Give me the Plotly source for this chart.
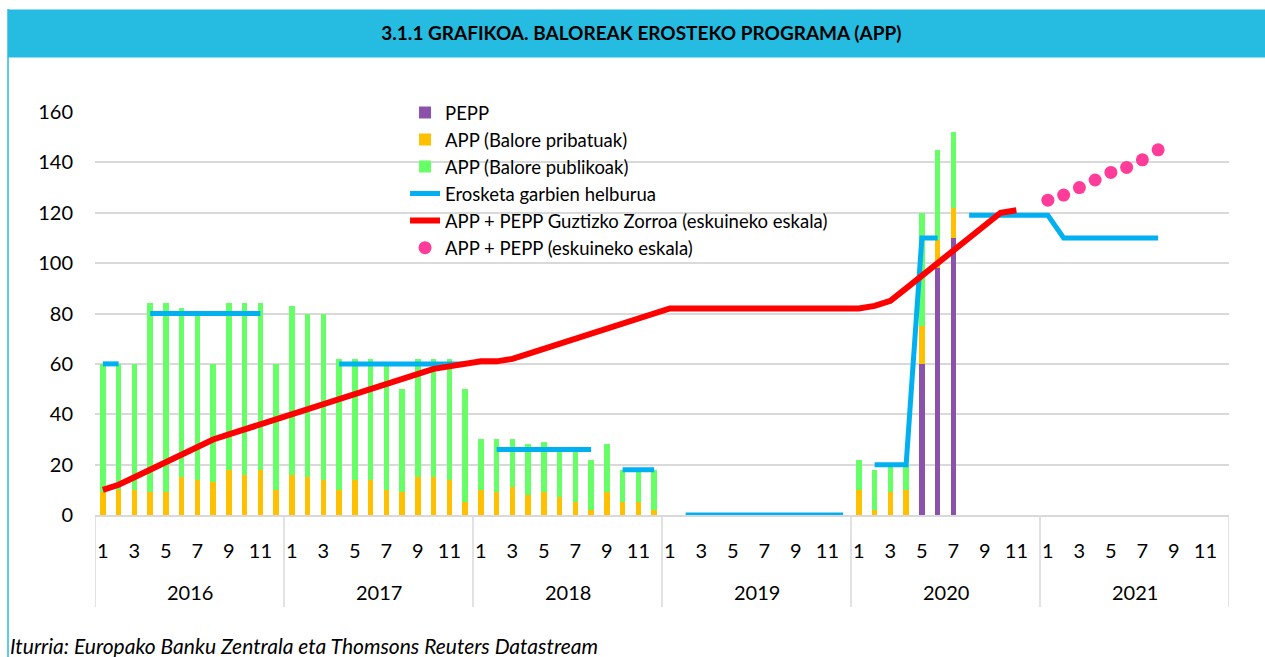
import plotly.graph_objects as go

# Monthly data, January 2016 - December 2021 (72 months)
YEARS = ["2016", "2017", "2018", "2019", "2020", "2021"]
MONTH_TICKS = ["1", "3", "5", "7", "9", "11"]
N = None

# Monthly net purchases (bars, stacked)
pepp = [0] * 12 + [0] * 12 + [0] * 12 + [N] * 12 + \
    [0, 0, 0, 0, 60, 98, 110, N, N, N, N, N] + [N] * 12
app_private = [9, 10, 10, 9, 9, 15, 14, 13, 18, 16, 18, 10] + \
    [16, 15, 14, 10, 14, 14, 10, 9, 15, 15, 14, 5] + \
    [10, 9, 11, 8, 9, 7, 5, 2, 9, 5, 5, 2] + [N] * 12 + \
    [10, 2, 9, 10, 15, 11, 12, N, N, N, N, N] + [N] * 12
app_public = [51, 50, 50, 75, 75, 67, 66, 47, 66, 68, 66, 50] + \
    [67, 65, 66, 52, 48, 48, 50, 41, 47, 47, 48, 45] + \
    [20, 21, 19, 20, 20, 20, 20, 20, 19, 13, 13, 16] + [N] * 12 + \
    [12, 16, 11, 10, 45, 36, 30, N, N, N, N, N] + [N] * 12

# Net purchase target
target = [60, 60, N, 80, 80, 80, 80, 80, 80, 80, 80, N] + \
    [N, N, N, 60, 60, 60, 60, 60, 60, 60, 60, 60] + \
    [N, 26, 26, 26, 26, 26, 26, 26, N, 18, 18, 18] + \
    [N, 0, 0, 0, 0, 0, 0, 0, 0, 0, 0, 0] + \
    [N, 20, 20, 20, 110, 110, N, 119, 119, 119, 119, 119] + \
    [119, 110, 110, 110, 110, 110, 110, 110, N, N, N, N]

# Total APP + PEPP portfolio
portfolio = [10, 12, 15, 18, 21, 24, 27, 30, 32, 34, 36, 38] + \
    [40, 42, 44, 46, 48, 50, 52, 54, 56, 58, 59, 60] + \
    [61, 61, 62, 64, 66, 68, 70, 72, 74, 76, 78, 80] + \
    [82] * 12 + \
    [82, 83, 85, 90, 95, 100, 105, 110, 115, 120, 121, N] + [N] * 12

# APP + PEPP projection
projection = [N] * 60 + [125, 127, 130, 133, 136, 138, 141, 145, N, N, N, N]

x = list(range(len(YEARS) * 12))

FONT = "Lato"
GRID = "#D9D9D9"
BAND = "#26BCE1"

fig = go.Figure()
fig.add_trace(go.Bar(x=x, y=pepp, name="PEPP", marker_color="#8B52AC",
                     marker_line_width=0, width=0.34))
fig.add_trace(go.Bar(x=x, y=app_private, name="APP (Balore pribatuak)",
                     marker_color="#FFC000", marker_line_width=0, width=0.34))
fig.add_trace(go.Bar(x=x, y=app_public, name="APP (Balore publikoak)",
                     marker_color="#66FF66", marker_line_width=0, width=0.34))
fig.add_trace(go.Scatter(x=x, y=target, name="Erosketa garbien helburua",
                         mode="lines", line=dict(color="#00B0F0", width=5),
                         connectgaps=False))
fig.add_trace(go.Scatter(x=x, y=portfolio,
                         name="APP + PEPP Guztizko Zorroa (eskuineko eskala)",
                         mode="lines", line=dict(color="#FF0000", width=6)))
fig.add_trace(go.Scatter(x=x, y=projection,
                         name="APP + PEPP (eskuineko eskala)",
                         mode="markers",
                         marker=dict(color="#FF3C9A", size=13)))

# Month tick labels (odd months) on the numeric month axis
tickvals, ticktext = [], []
for yi, _ in enumerate(YEARS):
    for lab in MONTH_TICKS:
        tickvals.append(yi * 12 + int(lab) - 1)
        ticktext.append(lab)

shapes = []
annotations = []
# Year separators and year labels below the month labels
for yi, yr in enumerate(YEARS + [None]):
    shapes.append(dict(type="line", xref="x", yref="paper",
                       x0=yi * 12 - 0.5, x1=yi * 12 - 0.5, y0=0, y1=-0.228,
                       line=dict(color=GRID, width=1.5)))
    if yr is not None:
        annotations.append(dict(text=yr, xref="x", yref="paper",
                                x=yi * 12 + 5.5, y=-0.191, showarrow=False,
                                font=dict(family=FONT, size=20, color="#000"),
                                xanchor="center", yanchor="middle"))

# Title band and left frame line
shapes.append(dict(type="rect", xref="paper", yref="paper",
                   x0=-0.0767, x1=1.04, y0=1.1352, y1=1.2543,
                   fillcolor=BAND, line=dict(width=0), layer="below"))
shapes.append(dict(type="line", xref="paper", yref="paper",
                   x0=-0.0767, x1=-0.0767, y0=1.2556, y1=-0.36,
                   line=dict(color=BAND, width=1.5)))

annotations.append(dict(
    text="Iturria: Europako Banku Zentrala eta Thomsons Reuters Datastream",
    xref="paper", yref="paper", x=-0.0767, y=-0.3226, showarrow=False,
    xanchor="left", yanchor="middle",
    font=dict(family=FONT, size=21, color="#000", style="italic")))

fig.update_layout(
    width=1265, height=657,
    margin=dict(l=95, r=36, t=112, b=142),
    paper_bgcolor="white", plot_bgcolor="white",
    barmode="stack",
    title=dict(text="<b>3.1.1 GRAFIKOA. BALOREAK EROSTEKO PROGRAMA (APP)</b>",
               x=0.507, xref="container", xanchor="center",
               y=1 - 33 / 657, yref="container", yanchor="middle",
               font=dict(family=FONT, size=19, color="#000")),
    font=dict(family=FONT, color="#000"),
    showlegend=True,
    legend=dict(x=0.2734, y=1.045, xanchor="left", yanchor="top",
                traceorder="normal", bgcolor="rgba(0,0,0,0)",
                font=dict(family=FONT, size=18.5, color="#000"),
                tracegroupgap=0),
    xaxis=dict(range=[-0.5, 71.5], tickmode="array", tickvals=tickvals,
               ticktext=ticktext, showgrid=False, zeroline=False,
               showline=True, linecolor=GRID, linewidth=1.5, ticks="",
               ticklabelstandoff=17,
               tickfont=dict(family=FONT, size=20, color="#000")),
    yaxis=dict(range=[0, 160], dtick=20, showgrid=True, gridcolor=GRID,
               gridwidth=1.5, zeroline=False, showline=False, ticks="",
               ticklabelstandoff=21,
               tickfont=dict(family=FONT, size=20, color="#000")),
    shapes=shapes, annotations=annotations,
)

fig.write_html("out.html")
